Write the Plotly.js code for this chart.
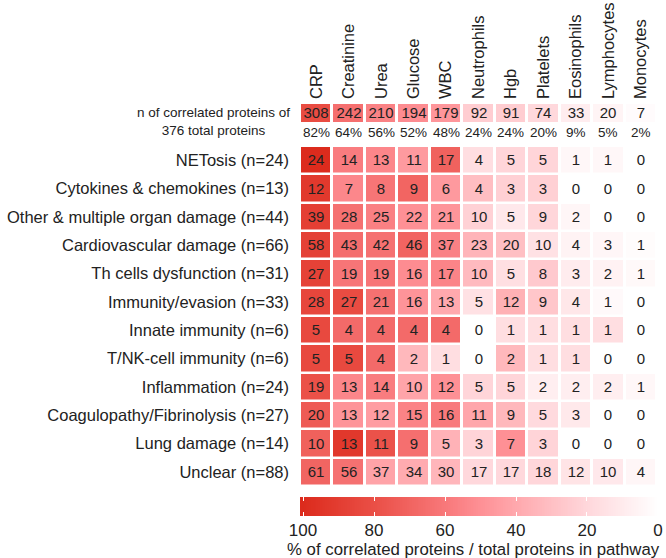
<!DOCTYPE html>
<html>
<head>
<meta charset="utf-8">
<script src="https://cdn.plot.ly/plotly-3.0.1.min.js"></script>
<style>html,body{margin:0;padding:0;background:#fff;}#chart{width:666px;height:558px;}</style>
</head>
<body>
<div id="chart"></div>
<script>
// ---------- DATA ----------
const columns = ["CRP","Creatinine","Urea","Glucose","WBC","Neutrophils","Hgb","Platelets","Eosinophils","Lymphocytes","Monocytes"];
const totalProteins = 376;
const topCounts = [308,242,210,194,179,92,91,74,33,20,7];
const pathways = ["NETosis","Cytokines & chemokines","Other & multiple organ damage","Cardiovascular damage","Th cells dysfunction","Immunity/evasion","Innate immunity","T/NK-cell immunity","Inflammation","Coagulopathy/Fibrinolysis","Lung damage","Unclear"];
const pathwayN = [24,13,44,66,31,33,6,6,24,27,14,88];
const counts = [
  [24,14,13,11,17,4,5,5,1,1,0],
  [12,7,8,9,6,4,3,3,0,0,0],
  [39,28,25,22,21,10,5,9,2,0,0],
  [58,43,42,46,37,23,20,10,4,3,1],
  [27,19,19,16,17,10,5,8,3,2,1],
  [28,27,21,16,13,5,12,9,4,1,0],
  [5,4,4,4,4,0,1,1,1,1,0],
  [5,5,4,2,1,0,2,1,1,0,0],
  [19,13,14,10,12,5,5,2,2,2,1],
  [20,13,12,15,16,11,9,5,3,0,0],
  [10,13,11,9,5,3,7,3,0,0,0],
  [61,56,37,34,30,17,17,18,12,10,4]
];
const colorTicks = [0,20,40,60,80,100];
const topLabel = "n of correlated proteins of<br>376 total proteins";
const colorTitle = "% of correlated proteins / total proteins in pathway";

// ---------- DERIVED ----------
const rowLabels = pathways.map((p,i)=>p+" (n="+pathwayN[i]+")");
const pct = counts.map((r,i)=>r.map(v=>v/pathwayN[i]*100));
const topPct = topCounts.map(v=>v/totalProteins*100);
const topPctText = topPct.map(v=>Math.round(v)+"%");

const W=666,H=558;
const px=v=>v/W, py=v=>1-v/H;
const FONT="Arial, 'Liberation Sans', Helvetica, sans-serif";
const cs=[[0,'#ffffff'],[0.2,'#ffd7db'],[0.4,'#ffa8ad'],[0.5,'#fe9095'],[0.6,'#f8787a'],[0.8,'#ea4f46'],[1,'#dc2b1d']];

// colour ramp for the legend bar
const rampX=[]; for(let v=-1; v<=101; v+=0.5) rampX.push(v);

const traces=[
  {type:'heatmap', x:columns, y:rowLabels, z:pct, text:counts, texttemplate:'%{text}',
   textfont:{family:FONT,size:15,color:'#222'}, colorscale:cs, zmin:0, zmax:100,
   xgap:3, ygap:2.5, showscale:false, hoverinfo:'skip', xaxis:'x', yaxis:'y'},
  {type:'heatmap', x:columns, y:['top'], z:[topPct], text:[topCounts], texttemplate:'%{text}',
   textfont:{family:FONT,size:15,color:'#222'}, colorscale:cs, zmin:0, zmax:100,
   xgap:3, ygap:0, showscale:false, hoverinfo:'skip', xaxis:'x2', yaxis:'y2'},
  {type:'heatmap', x:rampX, y:['bar'], z:[rampX], colorscale:cs, zmin:0, zmax:100,
   showscale:false, hoverinfo:'skip', xaxis:'x3', yaxis:'y3'}
];

const annotations=[
  {text:topLabel, xref:'paper', yref:'paper', x:px(213), y:py(121), xanchor:'center', yanchor:'middle',
   showarrow:false, align:'center', font:{family:FONT,size:13.5,color:'#222'}},
  {text:colorTitle, xref:'paper', yref:'paper', x:px(474), y:py(549), xanchor:'center', yanchor:'middle',
   showarrow:false, font:{family:FONT,size:16.8,color:'#222'}}
];
columns.forEach((c,i)=>annotations.push({text:topPctText[i], xref:'x2', yref:'paper', x:c, y:py(132),
  xanchor:'center', yanchor:'middle', showarrow:false, font:{family:FONT,size:13.5,color:'#222'}}));

const layout={
  width:W, height:H, margin:{l:0,r:0,t:0,b:0}, paper_bgcolor:'#fff', plot_bgcolor:'rgba(0,0,0,0)',
  showlegend:false, font:{family:FONT,color:'#222'},
  xaxis:{domain:[px(300),px(657)], anchor:'y', showticklabels:false, ticks:'', showgrid:false, zeroline:false, showline:false, fixedrange:true},
  yaxis:{domain:[py(486),py(146)], anchor:'x', autorange:'reversed', type:'category', ticks:'', showgrid:false, zeroline:false,
         tickfont:{family:FONT,size:16.5,color:'#222'}, ticklabelstandoff:10, fixedrange:true},
  xaxis2:{domain:[px(300),px(657)], anchor:'y2', side:'top', tickangle:-90, ticks:'', showgrid:false, zeroline:false,
          tickfont:{family:FONT,size:16.5,color:'#222'}, ticklabelstandoff:4, fixedrange:true},
  yaxis2:{domain:[py(122),py(104)], anchor:'x2', showticklabels:false, ticks:'', showgrid:false, zeroline:false, fixedrange:true},
  xaxis3:{domain:[px(300),px(661)], anchor:'y3', range:[100.85,-0.85], tickvals:colorTicks, ticks:'inside', ticklen:4, tickwidth:1,
          tickcolor:'#ffffff', mirror:'ticks', showgrid:false, zeroline:false, showline:false,
          tickfont:{family:FONT,size:17,color:'#222'}, ticklabelstandoff:2, fixedrange:true},
  yaxis3:{domain:[py(516),py(497)], anchor:'x3', showticklabels:false, ticks:'', showgrid:false, zeroline:false, fixedrange:true},
  annotations:annotations
};
Plotly.newPlot('chart', traces, layout, {displayModeBar:false, staticPlot:true});
</script>
</body>
</html>
